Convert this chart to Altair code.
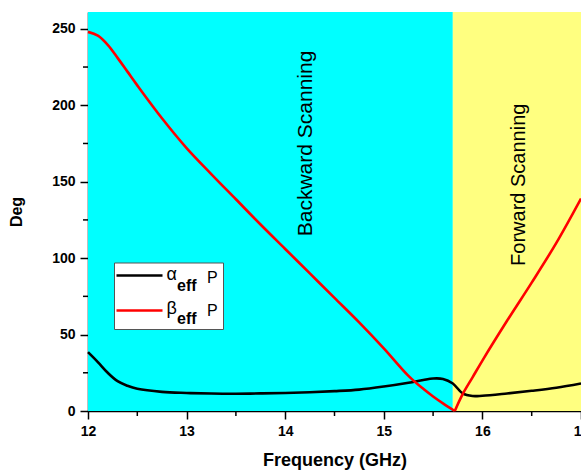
import altair as alt
import pandas as pd

# ---- data ----
freq_alpha = [12.0, 12.1, 12.2, 12.3, 12.4, 12.5, 12.75, 13.0, 13.25, 13.5, 13.75, 14.0,
              14.25, 14.5, 14.75, 15.0, 15.25, 15.4, 15.5, 15.6, 15.7, 15.8, 15.9, 16.0,
              16.25, 16.5, 16.75, 17.0]
alpha_eff = [38.5, 32.0, 25.0, 19.5, 16.5, 14.5, 12.5, 11.8, 11.4, 11.3, 11.5, 11.8,
             12.3, 13.0, 14.0, 16.0, 18.5, 20.3, 21.3, 21.0, 18.0, 11.5, 9.8, 10.0,
             11.5, 13.2, 15.2, 18.0]

# beta is drawn as two branches meeting at the minimum near 15.72 GHz
freq_beta_back = [12.0, 12.1, 12.2, 12.3, 12.4, 12.5, 12.75, 13.0, 13.25, 13.5, 13.75, 14.0,
                  14.25, 14.5, 14.75, 15.0, 15.25, 15.4, 15.5, 15.6, 15.72]
beta_back = [248, 245.5, 239.5, 231, 222, 213, 191.5, 172, 155, 138.5, 122, 106,
             90, 74, 58, 41, 23, 14.5, 9.5, 5, 0]
freq_beta_fwd = [15.72, 15.8, 15.9, 16.0, 16.25, 16.5, 16.75, 17.0]
beta_fwd = [0, 11, 22, 33, 59, 84, 110, 139]

region_names = ["Backward Scanning", "Forward Scanning"]
region_start = [12.0, 15.7]
region_end = [15.7, 17.0]
region_colors = ["#00FFFF", "#FFFF80"]
label_x = [14.21, 16.37]
label_y = [175, 148]
label_size = [21, 20]

x_ticks = [12, 13, 14, 15, 16, 17]
x_minor = [12.5, 13.5, 14.5, 15.5, 16.5]
y_ticks = [0, 50, 100, 150, 200, 250]
y_minor = [25, 75, 125, 175, 225]

FONT = "Liberation Sans"
W, H = 493, 399
XD = [12, 17]
YD = [0, 261]

lines_df = pd.concat([
    pd.DataFrame({"freq": freq_alpha, "deg": alpha_eff, "series": "alpha", "seg": "a"}),
    pd.DataFrame({"freq": freq_beta_back, "deg": beta_back, "series": "beta", "seg": "b1"}),
    pd.DataFrame({"freq": freq_beta_fwd, "deg": beta_fwd, "series": "beta", "seg": "b2"}),
])
regions_df = pd.DataFrame({"name": region_names, "x0": region_start, "x1": region_end,
                           "color": region_colors, "lx": label_x, "ly": label_y,
                           "size": label_size})

xs = alt.Scale(domain=XD, nice=False, zero=False)
ys = alt.Scale(domain=YD, nice=False)

bg = alt.Chart(regions_df).mark_rect().encode(
    x=alt.X("x0:Q", scale=xs,
            axis=alt.Axis(values=x_ticks, format="d", title="Frequency (GHz)",
                          titleFontSize=18, titleY=54, titleBaseline="alphabetic")),
    x2="x1:Q",
    y=alt.datum(YD[0], scale=ys,
                axis=alt.Axis(values=y_ticks, format="d", title="Deg", titleFontSize=16,
                              titleX=-67, titleBaseline="alphabetic")),
    y2=alt.datum(YD[1]),
    color=alt.Color("color:N", scale=None),
)

region_text = alt.Chart(regions_df).mark_text(angle=270, font=FONT, color="black",
                                              align="center", baseline="middle").encode(
    x=alt.X("lx:Q", scale=xs),
    y=alt.Y("ly:Q", scale=ys),
    text="name:N",
    size=alt.Size("size:Q", scale=None, legend=None),
)

lines = alt.Chart(lines_df).mark_line(interpolate="catmull-rom", strokeWidth=2.6).encode(
    x=alt.X("freq:Q", scale=xs),
    y=alt.Y("deg:Q", scale=ys),
    color=alt.Color("series:N", scale=alt.Scale(domain=["alpha", "beta"],
                                                range=["black", "red"]), legend=None),
    detail="seg:N",
)

# minor ticks
xminor = alt.Chart(pd.DataFrame({"v": x_minor})).mark_rule(color="black", strokeWidth=1.5).encode(
    x=alt.X("v:Q", scale=xs), y=alt.value(H), y2=alt.value(H + 5))
yminor = alt.Chart(pd.DataFrame({"v": y_minor})).mark_rule(color="black", strokeWidth=1.5).encode(
    y=alt.Y("v:Q", scale=ys), x=alt.value(-5), x2=alt.value(0))

# legend (drawn by hand to allow subscripts)
leg_box = alt.Chart(pd.DataFrame({"a": [0]})).mark_rect(
    fill="white", stroke="#555555", strokeWidth=1).encode(
    x=alt.value(26.5), x2=alt.value(135.5), y=alt.value(251), y2=alt.value(317.5))
leg_lines = alt.Chart(pd.DataFrame({"series": ["alpha", "beta"], "yy": [263.5, 298.5]})).mark_rule(
    strokeWidth=2.6).encode(
    x=alt.value(28.5), x2=alt.value(74.5), y=alt.Y("yy:Q", scale=None),
    color=alt.Color("series:N", scale=alt.Scale(domain=["alpha", "beta"],
                                                range=["black", "red"]), legend=None))
leg_text_df = pd.DataFrame({
    "t": ["α", "eff", "P", "β", "eff", "P"],
    "px": [78.5, 89, 119, 78.5, 89, 119],
    "py": [267.5, 278.5, 270.5, 302, 311.5, 303.5],
    "fs": [18, 16, 16, 18, 16, 16],
    "bold": [False, True, False, False, True, False],
})
leg_norm = alt.Chart(leg_text_df[~leg_text_df["bold"]]).mark_text(
    align="left", baseline="alphabetic", font=FONT, color="black").encode(
    x=alt.X("px:Q", scale=None), y=alt.Y("py:Q", scale=None), text="t:N",
    size=alt.Size("fs:Q", scale=None, legend=None),
)
leg_bold = alt.Chart(leg_text_df[leg_text_df["bold"]]).mark_text(
    align="left", baseline="alphabetic", font=FONT, color="black", fontWeight="bold").encode(
    x=alt.X("px:Q", scale=None), y=alt.Y("py:Q", scale=None), text="t:N",
    size=alt.Size("fs:Q", scale=None, legend=None),
)

chart = alt.layer(bg, region_text, lines, xminor, yminor, leg_box, leg_lines,
                  leg_norm, leg_bold).properties(
    width=W, height=H,
    autosize=alt.AutoSizeParams(type="none"),
    padding={"left": 88, "top": 12, "right": 0, "bottom": 59},
).configure_view(stroke=None).configure_axis(
    grid=False, ticks=True,
    labelFont=FONT, labelFontWeight="bold", labelFontSize=14, labelColor="black",
    titleFont=FONT, titleFontWeight="bold", titleColor="black",
    domainColor="black", domainWidth=1.5, tickColor="black", tickWidth=1.5,
    tickSize=8, labelPadding=5, labelFlush=False, labelOverlap=False,
)

chart.save("out.html", embed_options={"renderer": "svg", "actions": False})
